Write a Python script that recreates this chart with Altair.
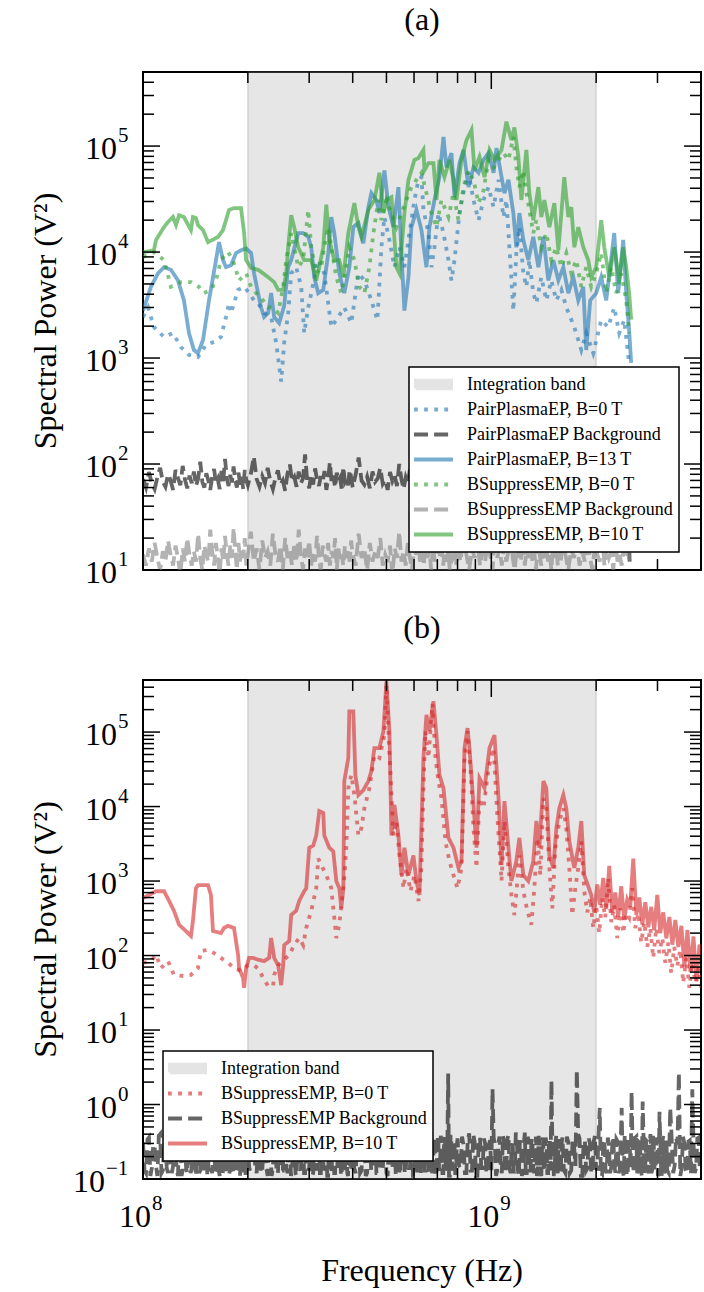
import math

import altair as alt
import pandas as pd

FONT = "Liberation Serif"

# Plot-area sizes (px)
W = 558
HA = 498
HB = 499

# Axis limits: frequency in Hz, spectral power in V^2
F_LIM = [1.0e8, 4.0e9]
PA_LIM = [1.0e1, 5.0e5]
PB_LIM = [1.0e-1, 5.0e5]
BAND_HZ = [2.0e8, 2.0e9]

# Decades that carry tick labels
X_EXP = [8, 9]
YA_EXP = [1, 2, 3, 4, 5]
YB_EXP = [-1, 0, 1, 2, 3, 4, 5]

# ---------------- Panel (a) ----------------
# PairPlasmaEP, B=0 T
EP0_MHZ = [100, 103.4, 107.5, 114.9, 121.9, 128.5, 135.5, 143.8, 151.6, 159.9,
           167.4, 173.1, 176.6, 178.9, 187.5, 195.1, 201.6, 208.4, 214, 222.7,
           233.3, 241.2, 249.3, 254.3, 261.1, 266.4, 275.3, 284.6, 290.3, 298.1,
           304.1, 318.5, 331.5, 347.2, 363.7, 378.4, 396.4, 415.3, 432.1, 452.6,
           471, 483.6, 493.3, 509.9, 527.1, 544.8, 563.1, 582, 601.6, 617.8,
           630.1, 638.5, 660, 673.2, 686.7, 705.1, 728.9, 753.4, 768.5, 783.9,
           810.3, 837.6, 860.1, 889, 918.9, 949.8, 981.8, 1015, 1049, 1084,
           1105, 1127, 1157, 1180, 1204, 1236, 1261, 1286, 1320, 1347,
           1392, 1439, 1487, 1537, 1589, 1642, 1731, 1813, 1873, 1962,
           2068, 2166, 2254, 2330, 2408, 2488]
EP0_PWR = [2440, 3000, 1960, 1580, 1720, 1270, 1070, 1020, 1330, 1420,
           1580, 2440, 3300, 2660, 4400, 4700, 4100, 3500, 3300, 2660,
           2440, 1390, 600, 1390, 2660, 6300, 7200, 4700, 1720, 3000,
           4100, 8400, 6300, 1960, 2440, 3000, 2140, 6300, 5400, 3500,
           2280, 11100, 21400, 13000, 7200, 11100, 7200, 15100, 31000, 48000,
           51000, 25000, 15100, 7200, 11100, 23300, 15100, 8400, 5400, 8400,
           23300, 41000, 56000, 31000, 20000, 31000, 41000, 26600, 48000, 21400,
           31000, 11100, 2800, 9800, 17200, 6300, 4700, 8400, 4100, 3300,
           5800, 3500, 5400, 3500, 4400, 3000, 1960, 1190, 1720, 1110,
           2280, 1960, 3000, 1720, 2280, 860]

# PairPlasmaEP, B=13 T
EP13_MHZ = [100, 105.4, 110.4, 114.9, 120.3, 126, 131.1, 135.5, 140, 143.8,
            148.7, 154.7, 162, 165.3, 169.7, 173.1, 178.9, 185, 191.2, 197.7,
            204.3, 208.4, 214, 218.3, 222.7, 228.7, 233.3, 238, 246, 254.3,
            261.1, 266.4, 279, 288.4, 298.1, 304.1, 310.2, 318.5, 329.3, 340.4,
            347.2, 354.2, 366.1, 378.4, 391.2, 401.7, 415.3, 429.3, 443.7, 452.6,
            467.9, 477.3, 493.3, 506.6, 523.6, 541.2, 552.1, 563.1, 578.2, 589.8,
            609.6, 630.1, 651.3, 664.4, 686.7, 709.8, 728.9, 743.5, 768.5, 783.9,
            810.3, 832.1, 860.1, 889, 918.9, 949.8, 981.8, 1015, 1035, 1070,
            1091, 1120, 1157, 1180, 1204, 1236, 1277, 1320, 1365, 1411,
            1458, 1507, 1558, 1610, 1664, 1720, 1777, 1837, 1873, 1923,
            2001, 2068, 2138, 2254, 2314, 2392, 2440, 2488, 2521]
EP13_PWR = [2800, 4700, 6300, 7200, 6800, 5400, 3500, 1720, 1190, 1110,
            1480, 3500, 8400, 12400, 8400, 7200, 7500, 9800, 10400, 10800,
            9800, 6300, 4100, 3000, 2440, 2660, 4100, 2440, 2140, 3100,
            7200, 8400, 15100, 15100, 13900, 11100, 5800, 4100, 4400, 9800,
            21400, 15100, 6300, 4100, 7200, 17200, 18800, 12100, 26600, 36000,
            31000, 23300, 59000, 26600, 17200, 41000, 9800, 2800, 5800, 17200,
            25000, 16100, 7200, 17200, 31000, 51000, 122000, 63000, 86000, 33000,
            69000, 92000, 41000, 63000, 56000, 74000, 86000, 56000, 96000, 51000,
            36000, 48000, 23300, 11100, 23300, 13000, 8400, 13900, 7200, 13900,
            5400, 8400, 5400, 7200, 4100, 5800, 3500, 4700, 1190, 3500,
            4100, 5800, 3500, 15100, 4100, 13000, 4100, 1800, 900]

# BSuppressEMP, B=0 T
BS0_MHZ = [100, 107.5, 114.9, 120.3, 128.5, 137.3, 144.7, 149.6, 156.7, 162,
           167.4, 175.4, 181.3, 188.7, 197.7, 204.3, 211.2, 221.2, 228.7, 236.4,
           244.4, 252.6, 257.7, 266.4, 271.7, 279, 288.4, 298.1, 304.1, 314.4,
           324.9, 331.5, 340.4, 347.2, 358.9, 371, 383.5, 391.2, 404.4, 418,
           432.1, 446.7, 458.7, 474.1, 483.6, 499.9, 516.7, 534.1, 552.1, 570.6,
           589.8, 609.6, 630.1, 651.3, 673.2, 695.9, 719.3, 753.4, 778.8, 805,
           832.1, 860.1, 889, 918.9, 949.8, 981.8, 1015, 1049, 1084, 1120,
           1157, 1180, 1204, 1236, 1261, 1286, 1320, 1347, 1392, 1439,
           1487, 1537, 1589, 1642, 1697, 1754, 1813, 1873, 1936, 2001,
           2068, 2138, 2210, 2284, 2361, 2440, 2488]
BS0_PWR = [9000, 10000, 8400, 4700, 5200, 5200, 4700, 4100, 4400, 5400,
           8400, 10000, 8400, 5400, 6300, 4700, 4100, 3500, 3000, 3000,
           2660, 4700, 8400, 15100, 11100, 7200, 8400, 25000, 11100, 6300,
           7200, 11100, 17200, 11100, 5800, 4100, 7200, 11100, 8400, 4700,
           4100, 7200, 15100, 31000, 20000, 31000, 23300, 17200, 23300, 31000,
           41000, 48000, 56000, 36000, 23300, 17200, 31000, 21400, 36000, 20000,
           41000, 59000, 48000, 29000, 38000, 74000, 63000, 74000, 86000, 74000,
           122000, 63000, 41000, 59000, 36000, 25000, 15100, 20000, 11100, 15100,
           8400, 11100, 7200, 9800, 6300, 8400, 4700, 7200, 4700, 6300,
           9800, 4100, 7200, 4100, 6300, 3500, 1720]

# BSuppressEMP, B=10 T
BS10_MHZ = [100, 107.5, 109, 114.9, 118, 121.9, 124.4, 126.9, 131.1, 137.3,
            139.1, 141.9, 143.8, 148.7, 153.7, 164.2, 169.7, 176.6, 182.5, 191.2,
            195.1, 197.7, 204.3, 214, 221.2, 228.7, 238, 244.4, 252.6, 257.7,
            261.1, 266.4, 271.7, 279, 290.3, 304.1, 314.4, 320.7, 329.3, 335.9,
            342.6, 354.2, 366.1, 376, 388.6, 404.4, 415.3, 423.6, 443.7, 461.7,
            477.3, 490.1, 499.9, 516.7, 534.1, 544.8, 563.1, 578.2, 601.6, 617.8,
            638.5, 642.8, 660, 682.2, 695.9, 709.8, 733.7, 758.4, 778.8, 794.4,
            821.1, 848.8, 877.3, 894.9, 925, 956.1, 988.3, 1021, 1070, 1105,
            1142, 1165, 1196, 1220, 1261, 1286, 1320, 1365, 1392, 1420,
            1468, 1517, 1558, 1620, 1664, 1697, 1731, 1777, 1837, 1898,
            1936, 2001, 2068, 2110, 2181, 2254, 2330, 2392, 2440, 2488, 2521]
BS10_PWR = [10000, 10400, 13000, 17200, 19200, 21400, 18000, 22300, 21400, 16100,
            21400, 21000, 18000, 16100, 12400, 13900, 16100, 25000, 26000, 26000,
            15100, 8400, 7100, 6800, 6300, 5800, 5200, 4400, 4400, 6300,
            11100, 22300, 17200, 11100, 8400, 8400, 5400, 7200, 11100, 28000,
            13000, 8400, 8400, 5800, 15100, 29000, 17200, 13900, 25000, 31000,
            56000, 23300, 31000, 33000, 7200, 6300, 23300, 48000, 74000, 77000,
            92000, 59000, 69000, 69000, 31000, 74000, 51000, 74000, 48000, 31000,
            74000, 114000, 142000, 59000, 79000, 51000, 92000, 74000, 92000, 170000,
            114000, 150000, 79000, 31000, 92000, 36000, 20000, 41000, 21400, 31000,
            17200, 29000, 10400, 51000, 21400, 26600, 11100, 17200, 11100, 8400,
            5800, 7200, 20000, 11100, 5800, 11100, 5400, 11100, 7200, 4100, 2300]

# Background traces of panel (a): FFT bins in MHz, coarser toward high frequency
BGA_MHZ = [*range(100, 200, 2), *range(200, 400, 4), *range(400, 800, 8),
           *range(800, 1600, 16), *range(1600, 2500, 32)]
EP_BG_PWR = [72, 60, 84, 66, 58, 75, 92, 68, 61, 80,
             70, 57, 88, 74, 63, 96, 71, 59, 78, 66,
             85, 62, 73, 105, 68, 60, 82, 70, 57, 76,
             90, 65, 72, 58, 86, 69, 112, 74, 62, 79,
             67, 95, 71, 60, 83, 64, 76, 58, 88, 70,
             63, 81, 118, 72, 61, 77, 66, 92, 69, 58,
             74, 87, 64, 70, 56, 82, 99, 68, 75, 61,
             85, 66, 73, 123, 70, 59, 80, 64, 91, 71,
             62, 77, 68, 86, 57, 72, 104, 66, 78, 60,
             83, 69, 74, 58, 94, 67, 71, 63, 88, 75,
             60, 80, 115, 70, 64, 76, 59, 85, 68, 73,
             92, 65, 71, 57, 84, 69, 78, 62, 100, 72,
             58, 75, 66, 89, 61, 74, 68, 126, 70, 63,
             79, 67, 86, 59, 73, 95, 64, 71, 60, 82,
             69, 76, 56, 90, 66, 72, 108, 63, 77, 61,
             84, 68, 74, 58, 97, 65, 71, 60, 80, 73,
             62, 88, 67, 75, 120, 64, 70, 57, 86, 69,
             74, 61, 93, 66, 72, 59, 82, 70, 64, 78,
             56, 85, 71, 63, 99, 68, 75, 60, 83, 67,
             72, 58, 90, 65, 76, 62, 113, 69, 74, 61,
             81, 66, 70, 57, 87, 64, 78, 60, 94, 71,
             63, 76, 68, 84, 59, 73, 66, 102, 62, 70,
             48, 80, 65, 74, 58, 88, 69, 62, 12]
BS_BG_PWR = [14, 11, 16, 12, 18, 13, 10, 15, 12, 19,
             14, 11, 17, 13, 9, 16, 12, 20, 14, 11,
             15, 12, 22, 13, 10, 17, 14, 12, 24, 15,
             11, 18, 13, 9, 16, 12, 21, 14, 11, 17,
             13, 25, 15, 10, 18, 12, 16, 13, 20, 11,
             14, 23, 12, 16, 10, 19, 13, 15, 11, 22,
             14, 12, 17, 10, 20, 13, 15, 11, 18, 12,
             24, 14, 10, 16, 13, 19, 11, 15, 12, 21,
             13, 10, 17, 14, 12, 18, 11, 15, 13, 20,
             10, 16, 12, 14, 11, 17, 13, 15, 12, 19,
             14, 11, 22, 13, 16, 10, 18, 12, 15, 13,
             20, 11, 14, 12, 17, 9, 16, 13, 23, 12,
             15, 11, 18, 13, 10, 16, 14, 21, 12, 15,
             11, 19, 13, 16, 10, 17, 12, 14, 25, 13,
             16, 11, 18, 12, 15, 10, 20, 13, 14, 11,
             17, 12, 22, 14, 10, 16, 13, 19, 11, 15,
             12, 18, 14, 10, 21, 13, 16, 11, 17, 12,
             15, 24, 13, 10, 17, 14, 12, 19, 11, 16,
             13, 20, 12, 15, 10, 18, 14, 11, 22, 13,
             16, 12, 14, 10, 19, 13, 17, 11, 15, 12,
             21, 14, 10, 16, 13, 18, 11, 15, 12, 20,
             13, 10, 17, 14, 12, 23, 11, 16, 13, 15,
             10, 18, 12, 14, 11, 16, 13, 15, 12]

# ---------------- Panel (b) ----------------
# BSuppressEMP, B=0 T
B_BS0_MHZ = [100, 105.4, 109, 112.6, 118, 122.7, 131.1, 137.3, 143.8, 146.7,
             153.7, 159.9, 167.4, 175.4, 182.5, 191.2, 200.3, 208.4, 215.4, 221.2,
             228.7, 236.4, 238, 244.4, 254.3, 262.9, 271.7, 280.8, 288.4, 294.2,
             304.1, 314.4, 318.5, 324.9, 335.9, 347.2, 354.2, 358.9, 366.1, 378.4,
             383.5, 388.6, 396.4, 404.4, 415.3, 423.6, 432.1, 446.7, 461.7, 477.3,
             493.3, 499.9, 506.6, 523.6, 534.1, 544.8, 559.5, 570.6, 586, 601.6,
             617.8, 630.1, 638.5, 647, 660, 677.7, 691.3, 705.1, 719.3, 738.6,
             758.4, 778.8, 799.7, 821.1, 837.6, 854.4, 871.6, 889, 906.8, 925,
             949.8, 981.8, 1015, 1042, 1070, 1091, 1120, 1142, 1165, 1188,
             1204, 1236, 1269, 1303, 1329, 1356, 1383, 1411, 1439, 1468,
             1497, 1527, 1568, 1610, 1642, 1675, 1708, 1742, 1777, 1813,
             1849, 1886, 1923, 1962, 2001, 2041, 2082, 2124, 2166, 2210,
             2254, 2299, 2345, 2392, 2440, 2488, 2538, 2590, 2642, 2694,
             2749, 2804, 2860, 2917, 2976, 3036, 3097, 3159, 3223, 3285,
             3352, 3419, 3487, 3558, 3630, 3703, 3778, 3854, 3932, 4006]
B_BS0_PWR = [80, 84, 102, 68, 84, 55, 53, 55, 68, 115,
             119, 108, 93, 80, 68, 62, 74, 74, 65, 50,
             39, 39, 55, 74, 88, 102, 138, 172, 138, 234,
             400, 800, 2000, 1640, 1200, 800, 320, 172, 260, 1100,
             2800, 17700, 26500, 14300, 4100, 5100, 9500, 17700, 49000, 45000,
             91000, 430000, 103000, 4100, 6400, 2200, 800, 1500, 730, 1200,
             540, 1500, 17700, 103000, 45000, 240000, 45000, 22000, 13000, 3400,
             1850, 1200, 800, 1500, 45000, 103000, 33000, 5100, 1500, 13000,
             9500, 33000, 61000, 6800, 1000, 6400, 1500, 650, 350, 1000,
             2200, 730, 400, 260, 800, 3800, 1200, 13000, 9500, 1500,
             430, 2800, 6400, 9500, 5100, 1500, 350, 800, 1500, 3400,
             730, 380, 590, 234, 470, 200, 590, 320, 1100, 280,
             470, 172, 430, 200, 370, 320, 800, 234, 370, 150,
             280, 130, 234, 93, 234, 108, 172, 80, 150, 58,
             130, 72, 119, 43, 93, 37, 80, 43, 68, 37]

# BSuppressEMP, B=10 T
B_BS10_MHZ = [100, 109, 114.9, 118.8, 122.7, 126.9, 132.8, 137.3, 139.1, 141.9,
              143.8, 153.7, 156.7, 158.8, 167.4, 170.8, 175.4, 182.5, 187.5, 188.7,
              193.8, 195.1, 197.7, 201.6, 207, 214, 222.7, 230.2, 233.3, 238,
              244.4, 249.3, 252.6, 254.3, 262.9, 266.4, 275.3, 280.8, 290.3, 294.2,
              300.1, 308.2, 314.4, 320.7, 329.3, 331.5, 342.6, 351.8, 358.9, 366.1,
              371, 376, 378.4, 388.6, 391.2, 401.7, 407.1, 415.3, 429.3, 443.7,
              452.6, 461.7, 477.3, 490.1, 499.9, 509.9, 516.7, 527.1, 541.2, 552.1,
              563.1, 578.2, 597.6, 609.6, 621.9, 638.5, 651.3, 664.4, 682.2, 695.9,
              709.8, 728.9, 753.4, 778.8, 805, 821.1, 837.6, 854.4, 865.8, 889,
              906.8, 925, 956.1, 988.3, 1021, 1049, 1070, 1091, 1120, 1142,
              1180, 1204, 1236, 1277, 1320, 1347, 1374, 1411, 1439, 1468,
              1507, 1537, 1568, 1610, 1642, 1675, 1731, 1777, 1813, 1849,
              1936, 1975, 2015, 2054, 2096, 2138, 2181, 2224, 2269, 2314,
              2361, 2408, 2456, 2505, 2556, 2608, 2660, 2714, 2768, 2824,
              2878, 2936, 2996, 3056, 3117, 3180, 3245, 3310, 3376, 3444,
              3514, 3585, 3657, 3731, 3806, 3883, 3961, 4006]
B_BS10_PWR = [590, 730, 730, 540, 400, 260, 213, 183, 290, 800,
              880, 880, 650, 213, 200, 234, 250, 234, 102, 68,
              50, 37, 68, 93, 93, 88, 84, 93, 172, 93,
              74, 40, 74, 138, 157, 350, 400, 540, 730, 800,
              2800, 3000, 4100, 8700, 8200, 4100, 2800, 2500, 1000, 800,
              430, 800, 22000, 45000, 190000, 190000, 26500, 14300, 16600, 22000,
              30000, 61000, 61000, 103000, 480000, 103000, 4100, 10500, 4100, 1200,
              2800, 1200, 2200, 1000, 650, 45000, 170000, 103000, 260000, 91000,
              26500, 17700, 3800, 2800, 1500, 1850, 61000, 113000, 61000, 10500,
              2800, 24000, 17700, 61000, 91000, 13000, 1640, 11800, 2800, 1000,
              1850, 3800, 1200, 1000, 1850, 6400, 2800, 22000, 17700, 2200,
              1500, 5100, 9500, 14300, 9500, 3400, 1500, 2800, 6400, 1200,
              650, 380, 900, 480, 1100, 420, 1600, 380, 700, 330,
              850, 300, 560, 450, 2000, 350, 600, 260, 520, 240,
              450, 220, 650, 200, 380, 170, 330, 140, 300, 130,
              250, 70, 220, 60, 180, 45, 140, 100]

# BSuppressEMP Background (panel b): FFT bins in MHz, two interleaved bin sets
BGB_MHZ = [*range(100, 200, 2), *range(200, 400, 4), *range(400, 800, 8),
           *range(800, 1600, 16), *range(1600, 3200, 32), *range(3200, 4001, 64)]
BGB_PWR = [0.31, 0.12, 0.36, 0.14, 0.27, 0.11, 0.40, 0.13, 0.30, 0.12,
           0.35, 0.15, 0.29, 0.11, 0.38, 0.13, 0.26, 0.12, 0.34, 0.14,
           0.30, 0.11, 0.42, 0.13, 0.28, 0.12, 0.36, 0.15, 0.31, 0.12,
           0.37, 0.13, 0.27, 0.11, 0.35, 0.14, 0.39, 0.12, 0.29, 0.13,
           0.33, 0.12, 0.31, 0.14, 0.41, 0.11, 0.28, 0.13, 0.36, 0.12,
           0.32, 0.15, 0.30, 0.12, 0.38, 0.13, 0.34, 0.11, 0.31, 0.14,
           0.29, 0.12, 0.43, 0.13, 0.33, 0.12, 0.30, 0.14, 0.37, 0.11,
           0.32, 0.13, 0.36, 0.12, 0.28, 0.14, 0.39, 0.12, 0.34, 0.13,
           0.40, 0.12, 0.31, 0.15, 0.29, 0.11, 0.36, 0.13, 0.33, 0.12,
           0.30, 0.14, 0.41, 0.12, 0.27, 0.13, 0.35, 0.11, 0.32, 0.14,
           0.29, 0.12, 0.37, 0.13, 0.31, 0.12, 0.34, 0.15, 0.42, 0.12,
           0.33, 0.13, 0.28, 0.11, 0.36, 0.14, 0.30, 0.12, 0.38, 0.13,
           0.31, 0.12, 0.35, 0.14, 0.29, 0.11, 0.40, 0.13, 0.32, 0.12,
           0.37, 0.13, 0.30, 0.12, 0.34, 0.14, 0.28, 0.12, 0.39, 0.13,
           0.32, 0.12, 0.36, 0.14, 2.6, 0.11, 0.33, 0.13, 0.30, 0.12,
           0.35, 0.14, 0.29, 0.12, 0.41, 0.13, 0.31, 0.11, 0.36, 0.14,
           0.30, 0.12, 0.33, 1.6, 0.28, 0.13, 0.37, 0.12, 0.32, 0.14,
           0.39, 0.12, 0.30, 0.13, 0.35, 0.11, 0.29, 0.14, 0.42, 0.12,
           0.33, 0.13, 0.31, 0.12, 0.37, 0.14, 0.28, 0.11, 0.36, 0.13,
           0.30, 0.12, 0.34, 2.1, 0.29, 0.13, 0.38, 0.12, 0.32, 0.14,
           0.36, 0.12, 0.31, 0.13, 0.28, 2.9, 0.35, 0.11, 0.33, 0.14,
           0.30, 0.12, 0.38, 0.13, 0.9, 0.11, 0.34, 0.12, 0.29, 0.14,
           0.37, 0.12, 0.32, 0.13, 0.9, 0.11, 0.35, 0.12, 0.30, 1.5,
           0.13, 0.36, 0.12, 0.31, 0.14, 1.1, 0.12, 0.33, 0.13, 0.29,
           0.12, 0.38, 0.13, 0.30, 0.11, 0.8, 0.14, 0.34, 0.12, 0.31,
           0.13, 0.9, 0.12, 0.36, 2.7, 0.14, 0.30, 0.12, 0.33, 1.6,
           0.12, 0.35, 0.13]
BGB2_MHZ = [*range(101, 200, 2), *range(202, 400, 4), *range(404, 800, 8),
            *range(808, 1600, 16), *range(1616, 3200, 32), *range(3232, 4001, 64)]
BGB2_PWR = [0.13, 0.34, 0.11, 0.29, 0.15, 0.38, 0.12, 0.31, 0.14, 0.36,
            0.12, 0.28, 0.13, 0.40, 0.11, 0.33, 0.14, 0.30, 0.12, 0.37,
            0.15, 0.32, 0.12, 0.27, 0.13, 0.39, 0.11, 0.34, 0.14, 0.30,
            0.12, 0.36, 0.13, 0.41, 0.11, 0.29, 0.15, 0.33, 0.12, 0.38,
            0.14, 0.30, 0.12, 0.35, 0.11, 0.42, 0.13, 0.31, 0.12, 0.27,
            0.13, 0.37, 0.15, 0.32, 0.12, 0.29, 0.14, 0.39, 0.11, 0.34,
            0.12, 0.31, 0.13, 0.36, 0.14, 0.28, 0.11, 0.40, 0.12, 0.33,
            0.14, 0.30, 0.12, 0.38, 0.13, 0.35, 0.11, 0.29, 0.15, 0.41,
            0.12, 0.34, 0.13, 0.31, 0.11, 0.37, 0.14, 0.28, 0.12, 0.36,
            0.13, 0.39, 0.11, 0.32, 0.15, 0.30, 0.12, 0.35, 0.13, 0.27,
            0.14, 0.33, 0.12, 0.40, 0.11, 0.31, 0.13, 0.37, 0.12, 0.29,
            0.15, 0.36, 0.12, 0.34, 0.14, 0.28, 0.11, 0.39, 0.13, 0.32,
            0.12, 0.30, 0.14, 0.38, 0.11, 0.35, 0.13, 0.27, 0.12, 0.41,
            0.13, 0.33, 0.15, 0.29, 0.12, 0.36, 0.11, 0.31, 0.14, 0.38,
            0.12, 0.34, 0.13, 0.30, 0.11, 0.39, 0.14, 0.32, 0.12, 0.28,
            0.15, 0.37, 0.12, 0.33, 0.13, 0.40, 0.11, 0.30, 0.14, 0.35,
            0.12, 0.29, 0.13, 0.36, 0.11, 0.31, 0.15, 0.38, 0.12, 0.34,
            0.14, 0.27, 0.12, 0.42, 0.13, 0.33, 0.11, 0.30, 0.12, 0.37,
            0.13, 0.35, 0.14, 0.29, 0.11, 0.38, 0.12, 0.32, 0.15, 0.36,
            0.12, 0.31, 0.13, 0.39, 0.11, 0.28, 0.14, 0.34, 0.12, 0.30,
            0.13, 0.37, 0.12, 0.33, 0.15, 0.40, 0.11, 0.29, 0.13, 0.35,
            0.12, 0.32, 0.14, 0.38, 0.11, 0.30, 0.13, 0.36, 0.12, 0.27,
            0.15, 0.34, 0.12, 0.31, 0.13, 0.39, 0.11, 0.33, 0.14, 0.29,
            0.12, 0.37, 0.13, 0.30, 0.11, 0.35, 0.15, 0.32, 0.12, 0.40,
            0.13, 0.28, 0.14, 0.36, 0.12, 0.33, 0.11, 0.38, 0.13, 0.31,
            0.12, 0.34, 0.15, 0.29, 0.11, 0.37, 0.13, 0.32, 0.12, 0.30,
            0.14, 0.36]

LEGEND_A = ["Integration band", "PairPlasmaEP, B=0 T", "PairPlasmaEP Background",
            "PairPlasmaEP, B=13 T", "BSuppressEMP, B=0 T", "BSuppressEMP Background",
            "BSuppressEMP, B=10 T"]
LEGEND_B = ["Integration band", "BSuppressEMP, B=0 T", "BSuppressEMP Background",
            "BSuppressEMP, B=10 T"]

BLUE, GREEN, RED = "#1f77b4", "#2ca02c", "#d62728"
BAND_KEY = "#d2d2d2"
COLORS_A = [BAND_KEY, BLUE, "#000000", BLUE, GREEN, "#808080", GREEN]
COLORS_B = [BAND_KEY, RED, "#000000", RED]

LW = 3.8
DOT = [3.8, 6.3]
DASH = [14, 6.1]


def frame(mhz, pwr):
    rows = [(m * 1e6, p) for m, p in zip(mhz, pwr)]
    return pd.DataFrame(rows, columns=["f", "p"])


def minor_ticks(lo, hi):
    vals = []
    e = math.floor(math.log10(lo))
    while 10.0 ** e < hi:
        for k in range(2, 10):
            v = k * 10.0 ** e
            if lo < v < hi:
                vals.append(v)
        e += 1
    return vals


def legend(pos):
    band = "datum.value === 'Integration band'"
    return alt.Legend(
        title=None, orient="none", legendX=pos[0], legendY=pos[1], direction="vertical",
        fillColor="white", strokeColor="black", padding=5, cornerRadius=0,
        labelFont=FONT, labelFontSize=18, labelColor="black", labelOffset=19, labelLimit=400,
        symbolSize=625, symbolOpacity=0.6, symbolStrokeWidth=LW, symbolOffset=5,
        clipHeight=25, rowPadding=0,
        symbolType=alt.ExprRef(
            expr=f"{band} ? 'M-1.41,-0.3L1.41,-0.3L1.41,0.3L-1.41,0.3Z' : 'M-1.56,0L1.56,0'"),
        symbolFillColor=alt.ExprRef(expr=f"{band} ? '{BAND_KEY}' : 'transparent'"),
        symbolDash=alt.ExprRef(
            expr="indexof(datum.value, 'Background') >= 0 ? [14, 6.1] : "
                 "(indexof(datum.value, 'B=0 T') >= 0 ? [3.8, 6.3] : [1, 0])"),
    )


def panel(lines, ylim, height, items, colors, legend_pos, y_exps, with_x, label):
    xs = alt.Scale(type="log", domain=F_LIM, nice=False)
    ys = alt.Scale(type="log", domain=ylim, nice=False)

    band_df = pd.DataFrame({"f0": [BAND_HZ[0]], "f1": [BAND_HZ[1]],
                            "p0": [ylim[0]], "p1": [ylim[1]]})
    layers = [
        alt.Chart(band_df).mark_rect(fill="gray", fillOpacity=0.2, stroke="gray",
                                     strokeOpacity=0.25, strokeWidth=1.5).encode(
            x=alt.X("f0:Q", scale=xs, axis=None), x2="f1:Q",
            y=alt.Y("p0:Q", scale=ys, axis=None), y2="p1:Q")
    ]

    for df, color, dash in lines:
        kw = dict(color=color, opacity=0.6, strokeWidth=LW, clip=True)
        if dash:
            kw["strokeDash"] = dash
        layers.append(alt.Chart(df).mark_line(**kw).encode(
            x=alt.X("f:Q", scale=xs, axis=None), y=alt.Y("p:Q", scale=ys, axis=None)))

    # inward ticks on all four sides
    tick = dict(color="black", strokeWidth=1.5)
    y_sets = [(pd.DataFrame({"v": [10.0 ** e for e in y_exps]}), 17),
              (pd.DataFrame({"v": minor_ticks(*ylim)}), 11)]
    x_sets = [(pd.DataFrame({"v": [10.0 ** e for e in X_EXP]}), 17),
              (pd.DataFrame({"v": minor_ticks(*F_LIM)}), 11)]
    for df, n in y_sets:
        yenc = alt.Y("v:Q", scale=ys, axis=None)
        layers.append(alt.Chart(df).mark_rule(**tick).encode(
            y=yenc, x=alt.value(0), x2=alt.value(n)))
        layers.append(alt.Chart(df).mark_rule(**tick).encode(
            y=yenc, x=alt.value(W), x2=alt.value(W - n)))
    for df, n in x_sets:
        xenc = alt.X("v:Q", scale=xs, axis=None)
        layers.append(alt.Chart(df).mark_rule(**tick).encode(
            x=xenc, y=alt.value(0), y2=alt.value(n)))
        layers.append(alt.Chart(df).mark_rule(**tick).encode(
            x=xenc, y=alt.value(height), y2=alt.value(height - n)))

    # tick labels written as 10 with a raised exponent
    base = dict(font=FONT, fontSize=32, color="black", baseline="alphabetic")
    sup = dict(font=FONT, fontSize=21, color="black", baseline="alphabetic")
    ylab = pd.DataFrame({"v": [10.0 ** e for e in y_exps],
                         "e": [str(e).replace("-", "\u2212") for e in y_exps],
                         "neg": [e < 0 for e in y_exps]})
    for neg, shift in ((False, 0), (True, 12)):
        cond = "datum.neg" if neg else "!datum.neg"
        yenc = alt.Y("v:Q", scale=ys, axis=None)
        layers.append(alt.Chart(ylab).transform_filter(cond).mark_text(
            text="10", align="right", dy=13, **base).encode(x=alt.value(-26 - shift), y=yenc))
        layers.append(alt.Chart(ylab).transform_filter(cond).mark_text(
            align="left", dy=-4, **sup).encode(x=alt.value(-25 - shift), y=yenc, text="e:N"))

    # axis titles
    ttl = dict(font=FONT, fontSize=32, color="black", align="center", baseline="middle")
    layers.append(alt.Chart(pd.DataFrame({"t": ["Spectral Power (V²)"]})).mark_text(
        angle=270, **ttl).encode(x=alt.value(-97), y=alt.value(height / 2), text="t:N"))

    if with_x:
        xlab = pd.DataFrame({"v": [10.0 ** e for e in X_EXP], "e": [str(e) for e in X_EXP]})
        xenc = alt.X("v:Q", scale=xs, axis=None)
        layers.append(alt.Chart(xlab).mark_text(text="10", align="right", dx=8, **base).encode(
            x=xenc, y=alt.value(height + 48)))
        layers.append(alt.Chart(xlab).mark_text(align="left", dx=9, **sup).encode(
            x=xenc, y=alt.value(height + 31), text="e:N"))
        layers.append(alt.Chart(pd.DataFrame({"t": ["Frequency (Hz)"]})).mark_text(
            **ttl).encode(x=alt.value(W / 2), y=alt.value(height + 92), text="t:N"))

    # legend entries (no visible marks of their own)
    layers.append(alt.Chart(pd.DataFrame({"s": items})).mark_line().encode(
        x=alt.X("fz:Q", scale=xs, axis=None), y=alt.Y("pz:Q", scale=ys, axis=None),
        color=alt.Color("s:N", scale=alt.Scale(domain=items, range=colors),
                        legend=legend(legend_pos))))

    return alt.layer(*layers).properties(
        width=W, height=height,
        title=alt.TitleParams(label, font=FONT, fontSize=32, fontWeight="normal", color="black",
                              offset=34, frame="group", anchor="middle"))


bg_b = pd.concat([frame(BGB_MHZ, BGB_PWR), frame(BGB2_MHZ, BGB2_PWR)]).sort_values("f")

lines_a = [
    (frame(EP0_MHZ, EP0_PWR), BLUE, DOT),
    (frame(BGA_MHZ, EP_BG_PWR), "#000000", DASH),
    (frame(EP13_MHZ, EP13_PWR), BLUE, None),
    (frame(BS0_MHZ, BS0_PWR), GREEN, DOT),
    (frame(BGA_MHZ, BS_BG_PWR), "#808080", DASH),
    (frame(BS10_MHZ, BS10_PWR), GREEN, None),
]
lines_b = [
    (frame(B_BS0_MHZ, B_BS0_PWR), RED, DOT),
    (bg_b, "#000000", DASH),
    (frame(B_BS10_MHZ, B_BS10_PWR), RED, None),
]

panel_a = panel(lines_a, PA_LIM, HA, LEGEND_A, COLORS_A, (266, 295), YA_EXP, False, "(a)")
panel_b = panel(lines_b, PB_LIM, HB, LEGEND_B, COLORS_B, (20, 371), YB_EXP, True, "(b)")

chart = (
    alt.vconcat(panel_a, panel_b, spacing=21)
    .resolve_scale(color="independent")
    .resolve_legend(color="independent")
    .configure_view(stroke="black", strokeWidth=2)
    .configure_legend(strokeWidth=1.5)
    .properties(padding={"left": 29, "top": 3, "right": 0, "bottom": 0}, background="white")
)

chart.save("out.html", embed_options={"renderer": "svg", "actions": False})
